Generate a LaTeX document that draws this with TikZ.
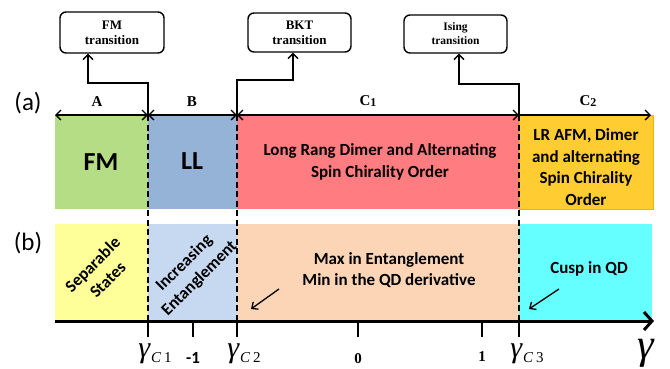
\documentclass[tikz,border=0pt]{standalone}
\usepackage{fontspec}
\setmainfont{Liberation Serif}
\newfontfamily\calib{Carlito}
\usetikzlibrary{arrows.meta}
\definecolor{fmgreen}{HTML}{B5DD85}
\definecolor{llblue}{HTML}{95B3D7}
\definecolor{dimred}{HTML}{FF7C80}
\definecolor{afmyel}{HTML}{FFCC32}
\definecolor{afmedge}{HTML}{EDB400}
\definecolor{sepyel}{HTML}{FFFF99}
\definecolor{incblue}{HTML}{C6D9F1}
\definecolor{peach}{HTML}{FBD5B5}
\definecolor{cyanq}{HTML}{66FFFF}
\newcommand{\gsub}[1]{{\itshape γ}\kern1pt\raisebox{-5pt}{\fontsize{15}{17}\selectfont\itshape C\kern3pt\upshape #1}}
\begin{document}
\begin{tikzpicture}[x=1pt,y=-1pt,
  region/.style={anchor=north west, inner sep=0pt, outer sep=0pt, align=center},
  bigtxt/.style={font=\calib\bfseries\fontsize{26}{30}\selectfont},
  midtxt/.style={font=\calib\bfseries\fontsize{17}{21.5}\selectfont, align=center},
  tbox/.style={draw, line width=1.4pt, rounded corners=6pt, align=center, inner sep=0pt},
  conn/.style={line width=1.4pt, -{Straight Barb[length=5pt,width=10pt,line width=1.4pt]}},
  dim/.style={line width=1.3pt, {Straight Barb[length=5pt,width=10pt]}-{Straight Barb[length=5pt,width=10pt]}},
  dimr/.style={line width=1.3pt, -{Straight Barb[length=5pt,width=10pt]}},
  dashln/.style={line width=1.6pt, dash pattern=on 6pt off 3.5pt},
  tick/.style={line width=2.6pt},
  ptr/.style={line width=1.3pt, -{Straight Barb[length=5pt,width=9pt]}},
  lettr/.style={font=\bfseries\fontsize{15}{18}\selectfont},
  panel/.style={font=\calib\fontsize{25}{30}\selectfont},
  glab/.style={anchor=base, inner sep=0pt, font=\fontsize{30}{32}\selectfont},
]
\useasboundingbox (0,0) rectangle (670,368);

% row (a) regions
\node[region, fill=fmgreen, minimum width=93, minimum height=94] (fm) at (55,115) {};
\node[region, fill=llblue, minimum width=89, minimum height=94] (ll) at (148,115) {};
\node[region, fill=dimred, minimum width=282, minimum height=94] (dim) at (237,115) {};
\node[region, fill=afmyel, draw=afmedge, line width=0.8pt, minimum width=134, minimum height=94] (afm) at (519,115) {};

\node[bigtxt] (fmt) at (101,162) {FM};
\node[bigtxt] (llt) at (192,161) {LL};
\node[midtxt] (dimt) at (380,162) {Long Rang Dimer and Alternating\\Spin Chirality Order};
\node[midtxt] (afmt) at (586,167) {LR AFM, Dimer\\and alternating\\Spin Chirality\\Order};

% row (b) regions
\node[region, fill=sepyel, minimum width=93, minimum height=97] (sep) at (55,224) {};
\node[region, fill=incblue, minimum width=89, minimum height=97] (inc) at (148,224) {};
\node[region, fill=peach, minimum width=282, minimum height=97] (maxe) at (237,224) {};
\node[region, fill=cyanq, minimum width=133, minimum height=97] (cusp) at (519,224) {};

\node[midtxt, rotate=45, inner sep=0pt] (sept) at (100,272) {Separable\\States};
\node[midtxt, rotate=45, inner sep=0pt] (inct) at (192,271) {Increasing\\Entanglement};
\node[midtxt] (maxt) at (389,270) {Max in Entanglement\\Min in the QD derivative};
\node[midtxt] (cuspt) at (589,269) {Cusp in QD};

% pointers
\coordinate (p1s) at (279,289); \coordinate (p1e) at (251,309);
\coordinate (p2s) at (559,289); \coordinate (p2e) at (529,309);
\draw[ptr] (p1s) -- (p1e);
\draw[ptr] (p2s) -- (p2e);

% top dimension line
\coordinate (a0) at (55,115);
\coordinate (a1) at (148,115);
\coordinate (a2) at (237,115);
\coordinate (a3) at (519,115);
\coordinate (a4) at (651,115);
\draw[dim] (a0) -- (a1);
\draw[dim] (a1) -- (a2);
\draw[dim] (a2) -- (a3);
\draw[dimr] (a3) -- (a4);
\node[lettr] (lA) at (97,102) {A};
\node[lettr] (lB) at (192,102) {B};
\node[lettr] (lC1) at (368,101) {C\raisebox{-1pt}{\fontsize{12}{14}\selectfont 1}};
\node[lettr] (lC2) at (588,101) {C\raisebox{-1pt}{\fontsize{12}{14}\selectfont 2}};

% panel labels
\node[panel] (pa) at (28,103) {(a)};
\node[panel] (pb) at (28,243) {(b)};

% axis
\coordinate (x0) at (55,321);
\coordinate (x1) at (654,321);
\coordinate (t1) at (148,321);
\coordinate (t2) at (193,321);
\coordinate (t3) at (237,321);
\coordinate (t4) at (358,321);
\coordinate (t5) at (482,321);
\coordinate (t6) at (519,321);

% dashed lines
\draw[dashln] (a1) -- (t1);
\draw[dashln] (a2) -- (t3);
\draw[dashln] (a3) -- (t6);

\draw[line width=3pt, -{Straight Barb[length=8pt,width=18pt,line width=3pt]}] (x0) -- (x1);
\foreach \t in {t1,t2,t3,t4,t5,t6} \draw[tick] (\t) -- ++(0,16);

\node[glab] (g1) at (155,357) {\gsub{1}};
\node[anchor=base, font=\calib\bfseries\fontsize{17}{20}\selectfont] (m1) at (193,363) {-1};
\node[glab] (g2) at (244,357) {\gsub{2}};
\node[anchor=base, font=\bfseries\fontsize{15}{18}\selectfont] (z0) at (358,363) {0};
\node[anchor=base, font=\bfseries\fontsize{15}{18}\selectfont] (o1) at (482,361) {1};
\node[glab] (g3) at (527,357) {\gsub{3}};
\node[anchor=base, inner sep=0pt, font=\itshape\fontsize{42}{44}\selectfont] (gg) at (646,358) {γ};

% transition boxes
\node[tbox, minimum width=104, minimum height=41, font=\bfseries\fontsize{13}{15}\selectfont] (fmtr) at (112,32.5) {FM\\transition};
\node[tbox, minimum width=103, minimum height=39, font=\bfseries\fontsize{13}{15}\selectfont] (bkt) at (299.5,32.5) {BKT\\transition};
\node[tbox, minimum width=103, minimum height=38, font=\bfseries\fontsize{11.5}{14}\selectfont] (ising) at (455.5,34) {Ising\\transition};

\draw[conn] (a1) -- ++(0,-32) -| ([xshift=-24pt]fmtr.south);
\draw[conn] (a2) -- ++(0,-35) -| ([xshift=-6.5pt]bkt.south);
\draw[conn] (a3) -- ++(0,-31) -| ([xshift=3.5pt]ising.south);
\end{tikzpicture}
\end{document}
